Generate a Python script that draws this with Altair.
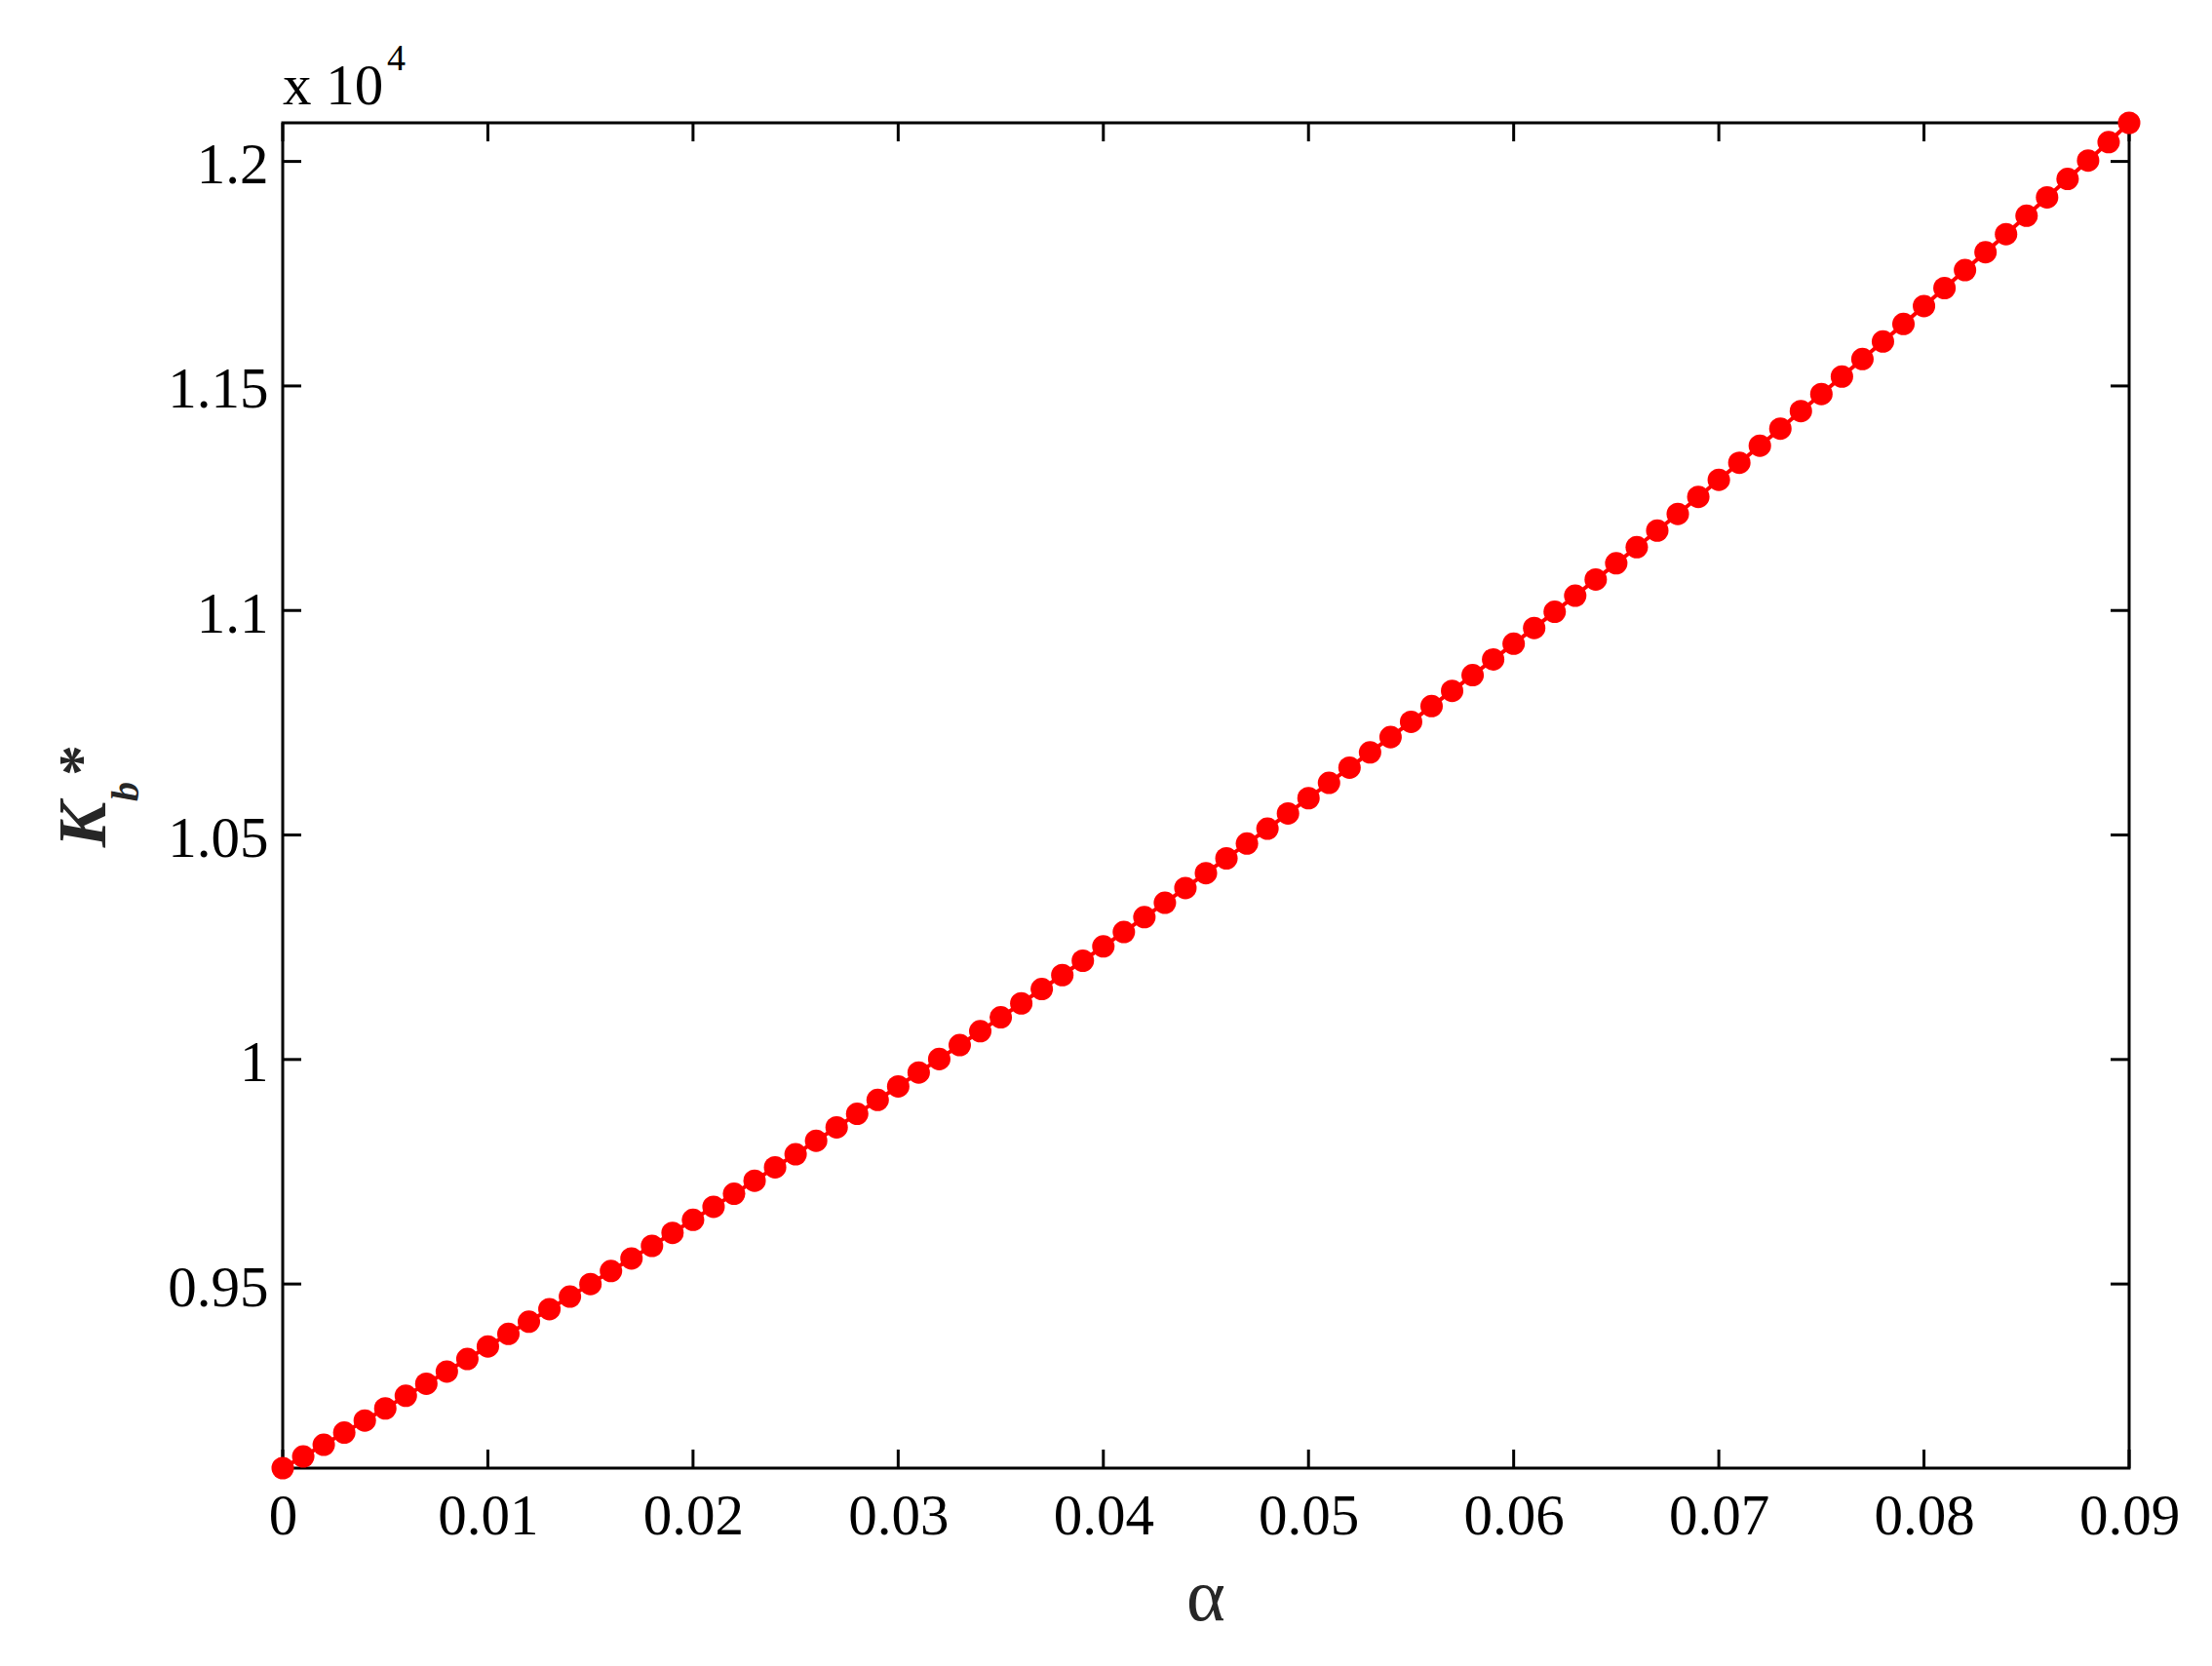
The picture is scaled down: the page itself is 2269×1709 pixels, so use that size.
import altair as alt
import pandas as pd

alpha = [round(i * 0.001, 3) for i in range(91)]
kb = [
    9090, 9116, 9142, 9169, 9196, 9223, 9251, 9278, 9305, 9333,
    9361, 9389, 9416, 9444, 9472, 9500, 9529, 9557, 9585, 9614,
    9643, 9672, 9701, 9730, 9760, 9789, 9819, 9849, 9879, 9910,
    9940, 9971, 10001, 10032, 10063, 10094, 10125, 10157, 10188, 10220,
    10252, 10284, 10317, 10349, 10382, 10415, 10448, 10481, 10514, 10548,
    10582, 10616, 10650, 10684, 10718, 10752, 10787, 10821, 10856, 10891,
    10926, 10961, 10997, 11033, 11069, 11105, 11141, 11178, 11215, 11253,
    11291, 11329, 11367, 11405, 11444, 11482, 11521, 11560, 11599, 11638,
    11678, 11718, 11758, 11798, 11838, 11879, 11920, 11961, 12002, 12043,
    12086,
]
x_ticks = [0, 0.01, 0.02, 0.03, 0.04, 0.05, 0.06, 0.07, 0.08, 0.09]
y_ticks = [9500, 10000, 10500, 11000, 11500, 12000]

W, H = 1894, 1380
TICK = 19
FONT = "Liberation Serif"
RED = "#ff0000"

df = pd.DataFrame({"alpha": alpha, "kb": kb})
xt = pd.DataFrame({"alpha": x_ticks})
yt = pd.DataFrame({"kb": y_ticks})
one = pd.DataFrame({"d": [0]})

xscale = alt.Scale(domain=[0, 0.09], nice=False, zero=False)
yscale = alt.Scale(domain=[9090, 12086], nice=False, zero=False)

xaxis = alt.Axis(values=x_ticks, labelExpr="format(datum.value, '~g')", ticks=False, tickSize=0,
                 domain=False, grid=False, labelFont=FONT, labelFontSize=59, labelColor="black",
                 labelPadding=20, title=None, labelFlush=False)
yaxis = alt.Axis(values=y_ticks, labelExpr="format(datum.value / 10000, '~g')", ticks=False, tickSize=0,
                 domain=False, grid=False, labelFont=FONT, labelFontSize=59, labelColor="black",
                 labelPadding=15, labelOffset=4, title=None, labelFlush=False)

X = alt.X("alpha:Q", scale=xscale, axis=xaxis)
Y = alt.Y("kb:Q", scale=yscale, axis=yaxis)

line = alt.Chart(df).mark_line(color=RED, strokeWidth=4).encode(x=X, y=Y)
pts = alt.Chart(df).mark_point(filled=True, shape="circle", size=530, color=RED, opacity=1).encode(x=X, y=Y)

tick_style = dict(color="black", strokeWidth=3)
xb = alt.Chart(xt).mark_rule(**tick_style).encode(x=X, y=alt.value(H), y2=alt.value(H - TICK))
xtp = alt.Chart(xt).mark_rule(**tick_style).encode(x=X, y=alt.value(0), y2=alt.value(TICK))
yl = alt.Chart(yt).mark_rule(**tick_style).encode(y=Y, x=alt.value(0), x2=alt.value(TICK))
yr = alt.Chart(yt).mark_rule(**tick_style).encode(y=Y, x=alt.value(W), x2=alt.value(W - TICK))

mult = alt.Chart(one).mark_text(text="x 10", font=FONT, fontSize=59, align="left",
                                baseline="alphabetic", color="black").encode(
    x=alt.value(0), y=alt.value(-19))
mult_exp = alt.Chart(one).mark_text(text="4", font=FONT, fontSize=38, align="left",
                                    baseline="alphabetic", color="black").encode(
    x=alt.value(107), y=alt.value(-54))

xtitle = alt.Chart(one).mark_text(text="α", font=FONT, fontSize=76, align="center",
                                  baseline="alphabetic", color="#262626").encode(
    x=alt.value(W / 2), y=alt.value(1536))

k_txt = alt.Chart(one).mark_text(text="K", font=FONT, fontSize=70, fontWeight="bold", fontStyle="italic",
                                 angle=270, align="center", baseline="alphabetic", color="#262626").encode(
    x=alt.value(-182), y=alt.value(720))
b_txt = alt.Chart(one).mark_text(text="b", font=FONT, fontSize=40, fontWeight="bold", fontStyle="italic",
                                 angle=270, align="center", baseline="alphabetic", color="#262626").encode(
    x=alt.value(-148), y=alt.value(686))
s_txt = alt.Chart(one).mark_text(text="*", font=FONT, fontSize=64, fontWeight="bold",
                                 angle=270, align="center", baseline="alphabetic", color="#262626").encode(
    x=alt.value(-186), y=alt.value(654))

chart = alt.layer(
    xb, xtp, yl, yr, line, pts, mult, mult_exp, xtitle, k_txt, b_txt, s_txt
).properties(
    width=W, height=H,
    autosize=alt.AutoSizeParams(type="none"),
    padding={"left": 282, "top": 118, "right": 60, "bottom": 180},
    background="white",
).configure_view(stroke="black", strokeWidth=3)

chart.save("out.html", embed_options={"renderer": "svg", "actions": False})
